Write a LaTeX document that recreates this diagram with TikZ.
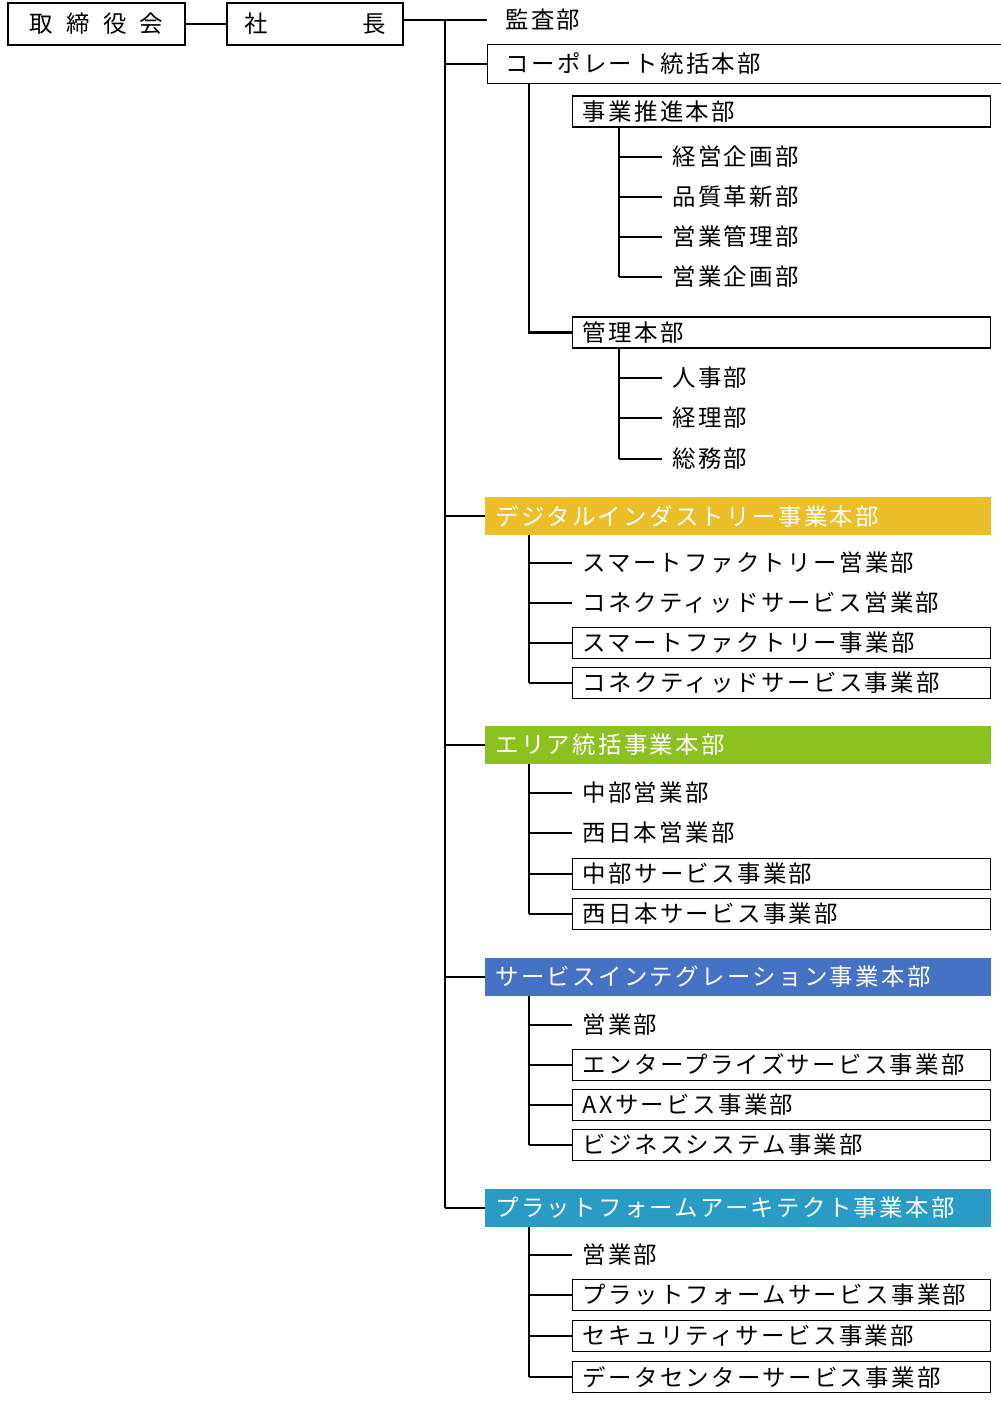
\documentclass[tikz,border=0pt]{standalone}
\usepackage{fontspec}
\newfontfamily\jp[LetterSpace=10]{Noto Sans CJK JP}
\definecolor{dxyellow}{HTML}{EBBE2A}
\definecolor{areagreen}{HTML}{8CC21F}
\definecolor{siblue}{HTML}{4472C4}
\definecolor{pfteal}{HTML}{2A9BC5}
\tikzset{
  conn/.style={line width=2pt},
  lbl/.style={anchor=west, inner xsep=0.3cm, inner ysep=0pt, font=\jp\fontsize{20pt}{20pt}\selectfont},
  boxed/.style={lbl, draw, line width=1.2pt, minimum height=0.93cm, text width=11.94cm},
  band/.style={lbl, fill=#1, text=white, minimum height=1.14cm, text width=14.58cm},
  topbox/.style={draw, line width=1.2pt, minimum height=1.26cm, font=\jp\fontsize{20pt}{20pt}\selectfont},
}
\begin{document}
\begin{tikzpicture}[x=0.03cm,y=-0.03cm]
\useasboundingbox (0,0) rectangle (1000,1401);
% top
\node [topbox, minimum width=5.31cm] (board) at (96.5,24) {取\hspace{0.4cm}締\hspace{0.4cm}役\hspace{0.4cm}会};
\node [topbox, minimum width=5.28cm] (ceo) at (315,24) {社\hspace{2.85cm}長};
\draw[conn] (board) -- (ceo);
\coordinate (trunk) at (445,20);
\node [lbl, inner xsep=0.54cm] (audit) at (487,20) {監査部};
\draw[conn] (ceo.east |- trunk) -- (audit.west);
\coordinate (trunk-end) at (445,1208);
\draw[conn] (trunk) -- (trunk-end);

% corporate
\node [boxed, text width=14.49cm, minimum height=1.17cm, inner xsep=0.54cm] (corp) at (487,64) {コーポレート統括本部};
\draw[conn] (corp.west -| trunk) -- (corp.west);
\coordinate (corp-spine) at (529,0);
\node [boxed] (biz) at (572,111.5) {事業推進本部};
\node [boxed] (adm) at (572,332.5) {管理本部};
\draw[conn] (corp-spine |- corp.south) -- (corp-spine |- adm.west) -- (adm.west);
\coordinate (sub-spine) at (619,0);
\foreach \y/\t in {157/経営企画部, 197/品質革新部, 237/営業管理部, 277/営業企画部}{
  \node [lbl] (biz-\y) at (662,\y) {\t};
  \draw[conn] (sub-spine |- biz-\y.west) -- (biz-\y.west);
}
\draw[conn] (sub-spine |- biz.south) -- (sub-spine |- biz-277.west);
\foreach \y/\t in {378/人事部, 418/経理部, 459/総務部}{
  \node [lbl] (adm-\y) at (662,\y) {\t};
  \draw[conn] (sub-spine |- adm-\y.west) -- (adm-\y.west);
}
\draw[conn] (sub-spine |- adm.south) -- (sub-spine |- adm-459.west);

% divisions
\node [band=dxyellow] (dx) at (485,516) {デジタルインダストリー事業本部};
\draw[conn] (dx.west -| trunk) -- (dx.west);
\foreach \y/\t/\s in {563/スマートファクトリー営業部/lbl, 603/コネクティッドサービス営業部/lbl, 643/スマートファクトリー事業部/boxed, 683/コネクティッドサービス事業部/boxed}{
  \node [\s] (dx-\y) at (572,\y) {\t};
  \draw[conn] (corp-spine |- dx-\y.west) -- (dx-\y.west);
}
\draw[conn] (corp-spine |- dx.south) -- (corp-spine |- dx-683.west);

\node [band=areagreen] (area) at (485,745) {エリア統括事業本部};
\draw[conn] (area.west -| trunk) -- (area.west);
\foreach \y/\t/\s in {793/中部営業部/lbl, 833/西日本営業部/lbl, 874/中部サービス事業部/boxed, 914/西日本サービス事業部/boxed}{
  \node [\s] (area-\y) at (572,\y) {\t};
  \draw[conn] (corp-spine |- area-\y.west) -- (area-\y.west);
}
\draw[conn] (corp-spine |- area.south) -- (corp-spine |- area-914.west);

\node [band=siblue] (si) at (485,977) {サービスインテグレーション事業本部};
\draw[conn] (si.west -| trunk) -- (si.west);
\foreach \y/\t/\s in {1025/営業部/lbl, 1065/エンタープライズサービス事業部/boxed, 1105/AXサービス事業部/boxed, 1145/ビジネスシステム事業部/boxed}{
  \node [\s] (si-\y) at (572,\y) {\t};
  \draw[conn] (corp-spine |- si-\y.west) -- (si-\y.west);
}
\draw[conn] (corp-spine |- si.south) -- (corp-spine |- si-1145.west);

\node [band=pfteal] (pf) at (485,1208) {プラットフォームアーキテクト事業本部};
\draw[conn] (pf.west -| trunk) -- (pf.west);
\foreach \y/\t/\s in {1255/営業部/lbl, 1295/プラットフォームサービス事業部/boxed, 1336/セキュリティサービス事業部/boxed, 1377/データセンターサービス事業部/boxed}{
  \node [\s] (pf-\y) at (572,\y) {\t};
  \draw[conn] (corp-spine |- pf-\y.west) -- (pf-\y.west);
}
\draw[conn] (corp-spine |- pf.south) -- (corp-spine |- pf-1377.west);
\end{tikzpicture}
\end{document}
